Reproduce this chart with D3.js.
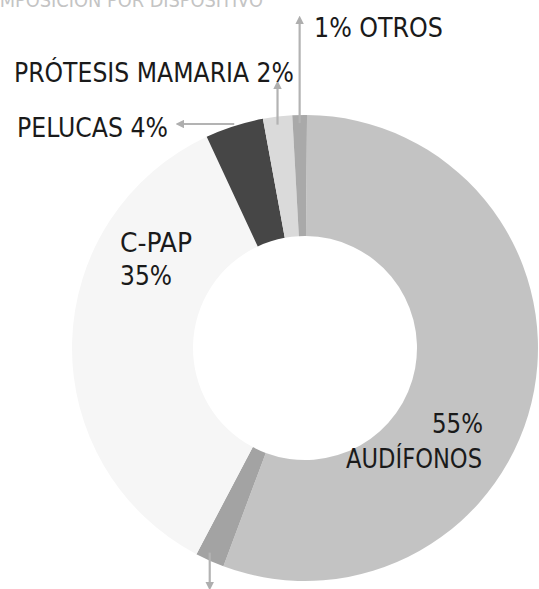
<!DOCTYPE html>
<html>
<head>
<meta charset="utf-8">
<script src="https://cdn.jsdelivr.net/npm/d3@7"></script>
<style>
  body { margin: 0; background: #fff; }
  svg text { font-family: "Liberation Sans Narrow", "DejaVu Sans Condensed", "Roboto", sans-serif; }
</style>
</head>
<body>
<svg id="chart" width="539" height="589"></svg>
<script>
// composicion por dispositivo
var categories = ["AUDÍFONOS", "SIN ETIQUETA", "C-PAP", "PELUCAS", "PRÓTESIS MAMARIA", "OTROS"]
var values = [55, 2, 35, 4, 2, 1]
var fills = ["url(#gradAud)", "#a3a3a3", "#f6f6f6", "url(#gradPel)", "#dadada", "#a9a9a9"]

var svg = d3.select("#chart")
var cx = 305, cy = 348
var outerR = 233, innerR = 112
var startOffset = 0.5 * Math.PI / 180

var defs = svg.append("defs")
function radial(id, stops) {
  var g = defs.append("radialGradient")
    .attr("id", id)
    .attr("gradientUnits", "userSpaceOnUse")
    .attr("cx", cx).attr("cy", cy).attr("r", outerR)
  stops.forEach(function(s) {
    g.append("stop").attr("offset", s[0]).attr("stop-color", s[1])
  })
}
radial("gradAud", [[0.48, "#c9c9c9"], [0.62, "#cfcfcf"], [0.75, "#d3d3d3"], [0.88, "#cacaca"], [1, "#c3c3c3"]])
radial("gradPel", [[0.48, "#7b7b7b"], [0.75, "#777777"], [0.76, "#4a4a4a"], [1, "#464646"]])

defs.append("marker")
  .attr("id", "arrow")
  .attr("viewBox", "0 0 10 10")
  .attr("refX", 5).attr("refY", 5)
  .attr("markerWidth", 4).attr("markerHeight", 4)
  .attr("orient", "auto")
  .append("path")
  .attr("d", "M0,0 L10,5 L0,10 z")
  .attr("fill", "#aeaeae")

// fit a label to the width it has in the scan by squeezing it sideways
function squeeze(sel, x, y, anchor, width) {
  var w = sel.node().getComputedTextLength()
  var sx = width / w
  sel.attr("x", 0).attr("y", 0)
    .attr("text-anchor", anchor)
    .attr("transform", "translate(" + x + "," + y + ") scale(" + sx + ",1)")
}

// title, cut off by the page edge like the scan
var title = svg.append("text")
  .attr("font-size", 19)
  .attr("fill", "#c4c4c4")
  .text("COMPOSICIÓN POR DISPOSITIVO")
squeeze(title, 263, 7, "end", 290)

var pie = d3.pie().sort(null)
  .startAngle(startOffset)
  .endAngle(startOffset + 2 * Math.PI)
var arcs = pie(values)
var arc = d3.arc().innerRadius(innerR).outerRadius(outerR)

var g = svg.append("g").attr("transform", "translate(" + cx + "," + cy + ")")

// leader arrows: [slice index, direction, end coordinate]
var leaders = [[5, "up", 20], [4, "up", 85], [3, "left", 180], [1, "down", 586]]
leaders.forEach(function(l) {
  var d = arcs[l[0]]
  var a = (d.startAngle + d.endAngle) / 2
  var x0 = cx + outerR * Math.sin(a), y0 = cy - outerR * Math.cos(a)
  var x1 = x0, y1 = y0
  if (l[1] == "up" || l[1] == "down") { y1 = l[2]; y0 = y0 + (l[1] == "up" ? 8 : -8) }
  else { x1 = l[2]; y0 = y0 - 2; y1 = y0 }
  svg.append("line")
    .attr("x1", x0).attr("y1", y0)
    .attr("x2", x1).attr("y2", y1)
    .attr("stroke", "#b3b3b3")
    .attr("stroke-width", 2.2)
    .attr("marker-end", "url(#arrow)")
})

g.selectAll("path.slice")
  .data(arcs)
  .enter().append("path")
  .attr("class", "slice")
  .attr("d", arc)
  .attr("fill", function(d, i) { return fills[i] })

// labels: text, x, baseline, anchor, width in the scan
var labelLines = [
  ["1% OTROS", 314, 37, "start", 129],
  ["PRÓTESIS MAMARIA 2%", 14, 82, "start", 280],
  ["PELUCAS 4%", 17, 137, "start", 151],
  ["C-PAP", 120, 252, "start", 72],
  ["35%", 120, 285, "start", 52],
  ["55%", 483, 433, "end", 51],
  ["AUDÍFONOS", 482, 468, "end", 136]
]
labelLines.forEach(function(d) {
  var t = svg.append("text")
    .attr("class", "lbl")
    .attr("font-size", 27)
    .attr("fill", "#1a1a1a")
    .text(d[0])
  squeeze(t, d[1], d[2], d[3], d[4])
})
</script>
</body>
</html>
